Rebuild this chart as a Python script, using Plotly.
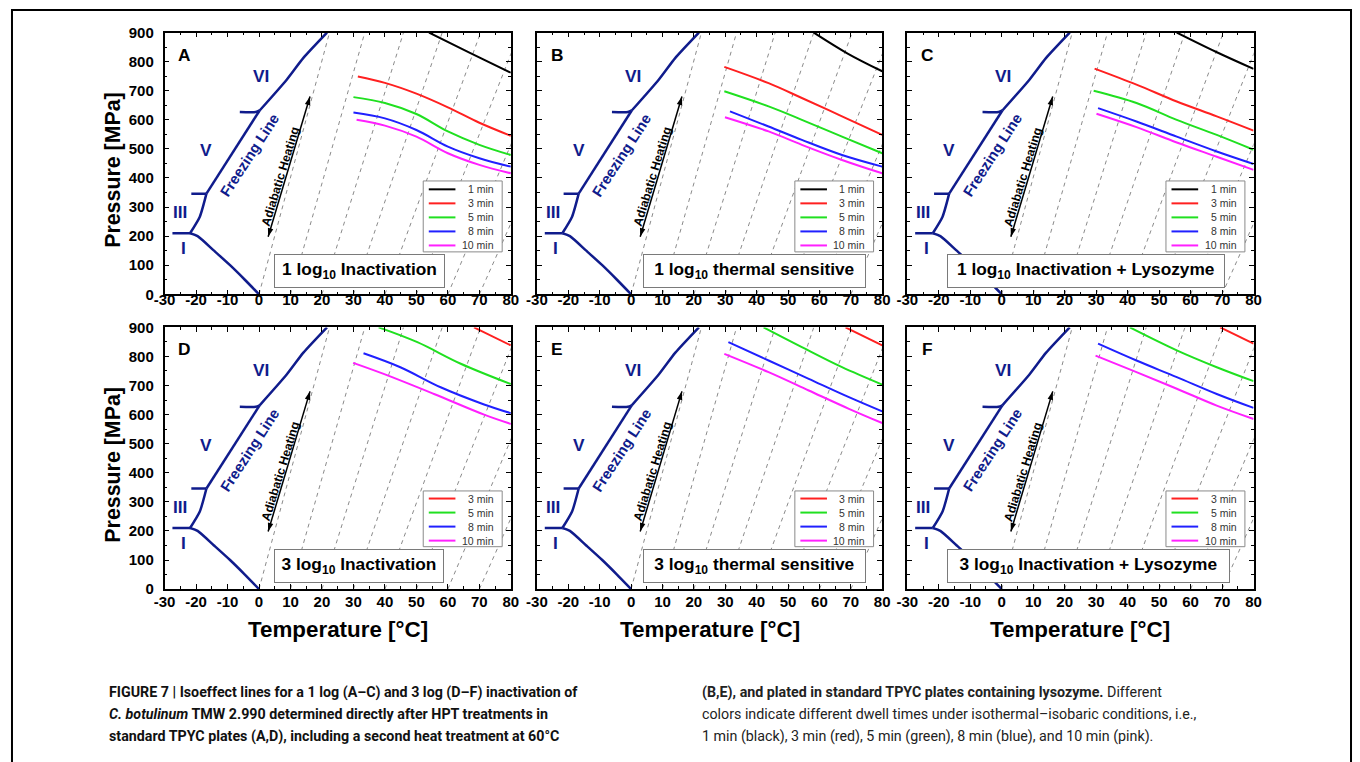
import plotly.graph_objects as go

# ---------------- data ----------------
X_TICKS = [-30, -20, -10, 0, 10, 20, 30, 40, 50, 60, 70, 80]
X_TICK_LABELS = ["-30", "-20", "-10", "0", "10", "20", "30", "40", "50", "60", "70", "80"]
Y_TICKS = [0, 100, 200, 300, 400, 500, 600, 700, 800, 900]

# adiabatic compression lines: start temperature at 0 MPa and temperature at 900 MPa
ADIA_T0 = [0, 10, 20, 30, 40, 50, 60, 70]
ADIA_T900 = [22.4, 33.6, 45.9, 58.2, 70.4, 82.7, 95.0, 107.0]
ADIA_P = [0, 900]

# double arrow "Adiabatic Heating"
ARROW_T = [2.9, 16.2]
ARROW_P = [198, 680]

# phase boundaries of water (freezing line)
ICE_I_T = [0, -4.5, -9.2, -14.3, -19.5, -21.9]
ICE_I_P = [0, 50, 100, 150, 200, 210]
ICE_I_III_T = [-21.9, -27.5]
ICE_I_III_P = [210, 210]
ICE_III_T = [-21.9, -18.8, -16.7]
ICE_III_P = [210, 267, 346]
ICE_III_V_T = [-16.7, -21.5]
ICE_III_V_P = [346, 346]
ICE_V_T = [-16.7, 0.2]
ICE_V_P = [346, 632]
ICE_V_VI_T = [0.2, -1.0, -6.1]
ICE_V_VI_P = [632, 627, 627]
ICE_VI_T = [0.2, 8.8, 14.1, 21.6]
ICE_VI_P = [632, 738, 813, 900]

DWELL = ["1 min", "3 min", "5 min", "8 min", "10 min"]
DWELL_COLORS = ["#000000", "#ff2020", "#20e020", "#2020ff", "#ff20ff"]

# isoeffect lines, per panel: dwell time -> temperatures / pressures
A_T = {"1 min": [54, 67, 80], "3 min": [31.4, 40, 50, 60, 70, 80], "5 min": [30, 40, 50, 60, 70, 80],
       "8 min": [30, 40, 50, 60, 70, 80], "10 min": [31, 40, 50, 60, 70, 80]}
A_P = {"1 min": [900, 830, 762], "3 min": [749, 727, 690, 643, 590, 545], "5 min": [678, 658, 620, 560, 514, 479],
       "8 min": [625, 605, 565, 508, 468, 439], "10 min": [600, 580, 542, 485, 445, 416]}

B_T = {"1 min": [58.2, 69, 80], "3 min": [29.7, 43.8, 54.4, 67.2, 80], "5 min": [29.7, 43.8, 54.4, 67.2, 80],
       "8 min": [31.5, 43.8, 54.4, 67.2, 80], "10 min": [29.9, 43.8, 54.4, 67.2, 80]}
B_P = {"1 min": [900, 828, 767], "3 min": [782, 726, 675, 612, 548], "5 min": [698, 646, 600, 542, 485],
       "8 min": [629, 577, 531, 479, 439], "10 min": [609, 560, 514, 462, 416]}

C_T = {"1 min": [55.6, 68, 80], "3 min": [29.5, 42.8, 55.6, 68.3, 80], "5 min": [29.2, 42.8, 55.6, 68.3, 80],
       "8 min": [30.6, 42.8, 55.6, 68.3, 80], "10 min": [30.1, 42.8, 55.6, 68.3, 80]}
C_P = {"1 min": [900, 834, 775], "3 min": [776, 721, 663, 612, 563], "5 min": [700, 658, 600, 548, 497],
       "8 min": [640, 594, 542, 491, 448], "10 min": [621, 575, 522, 473, 428]}

D_T = {"3 min": [68.3, 80], "5 min": [38, 50.3, 64.1, 80], "8 min": [33.2, 44.9, 57.7, 71.5, 80],
       "10 min": [29.9, 39.6, 55.6, 71.5, 80]}
D_P = {"3 min": [900, 838], "5 min": [900, 849, 775, 705], "8 min": [811, 763, 694, 635, 605],
       "10 min": [778, 740, 671, 600, 568]}

E_T = {"3 min": [68.3, 80], "5 min": [42.2, 54.4, 67.2, 80], "8 min": [31, 43.8, 56.6, 69.4, 80],
       "10 min": [29.7, 43.8, 56.6, 69.4, 80]}
E_P = {"3 min": [900, 838], "5 min": [900, 832, 763, 703], "8 min": [849, 786, 723, 660, 611],
       "10 min": [809, 746, 683, 620, 571]}

F_T = {"3 min": [69.4, 80], "5 min": [40.7, 55.6, 68.3, 80], "8 min": [30.6, 42.8, 55.6, 68.3, 80],
       "10 min": [29.8, 42.8, 55.6, 68.3, 80]}
F_P = {"3 min": [900, 844], "5 min": [900, 821, 763, 715], "8 min": [844, 786, 729, 671, 623],
       "10 min": [803, 746, 689, 631, 585]}

PANEL_LETTERS = ["A", "B", "C", "D", "E", "F"]
PANEL_LABELS = ["1 log<sub>10</sub> Inactivation", "1 log<sub>10</sub> thermal sensitive",
                "1 log<sub>10</sub> Inactivation + Lysozyme", "3 log<sub>10</sub> Inactivation",
                "3 log<sub>10</sub> thermal sensitive", "3 log<sub>10</sub> Inactivation + Lysozyme"]
LABEL_CENTER_T = [31.9, 39.3, 26.9, 31.7, 39.3, 27.6]
LABEL_WIDTH = [168, 219, 273, 167, 219, 278]

CAPTION_LEFT = [
    "<b>FIGURE 7 | Isoeffect lines for a 1 log (A–C) and 3 log (D–F) inactivation of</b>",
    "<b><i>C. botulinum</i> TMW 2.990 determined directly after HPT treatments in</b>",
    "<b>standard TPYC plates (A,D), including a second heat treatment at 60°C</b>",
]
CAPTION_RIGHT = [
    "<b>(B,E), and plated in standard TPYC plates containing lysozyme.</b> Different",
    "colors indicate different dwell times under isothermal–isobaric conditions, i.e.,",
    "1 min (black), 3 min (red), 5 min (green), 8 min (blue), and 10 min (pink).",
]

# ---------------- layout helpers ----------------
W, H = 1360, 762
# the photographed page appears slightly shrunk about its centre; positions below are
# target positions in the picture, converted back to page positions
SX, SY, BX, BY = 0.9824, 0.975, 12.0, 9.5
PANEL_X = [(165, 510), (536, 880), (905, 1250)]
PANEL_Y = [(33, 294), (327, 588)]
NAVY = "#101c8c"
FONT = "Liberation Sans, Arial, sans-serif"
K = 1.0 / SX  # font compensation


def fx(px):
    return ((px - BX) / SX) / W


def fy(py):
    return 1 - ((py - BY) / SY) / H


fig = go.Figure()
layout = {}
annotations = []
shapes = []

panel_T = [A_T, B_T, C_T, D_T, E_T, F_T]
panel_P = [A_P, B_P, C_P, D_P, E_P, F_P]

for i in range(6):
    k = i + 1
    row, col = divmod(i, 3)
    xa = "x" if k == 1 else f"x{k}"
    ya = "y" if k == 1 else f"y{k}"
    xdom = f"{xa} domain"
    ydom = f"{ya} domain"

    # adiabats
    for t0, t9 in zip(ADIA_T0, ADIA_T900):
        fig.add_trace(go.Scatter(x=[t0, t9], y=ADIA_P, mode="lines", xaxis=xa, yaxis=ya,
                                 line=dict(color="#8a8a8a", width=1, dash="4px,4px"),
                                 showlegend=False, hoverinfo="skip"))
    # freezing line
    for tt, pp in [(ICE_I_T, ICE_I_P), (ICE_I_III_T, ICE_I_III_P), (ICE_III_T, ICE_III_P),
                   (ICE_III_V_T, ICE_III_V_P), (ICE_V_T, ICE_V_P), (ICE_V_VI_T, ICE_V_VI_P),
                   (ICE_VI_T, ICE_VI_P)]:
        fig.add_trace(go.Scatter(x=tt, y=pp, mode="lines", xaxis=xa, yaxis=ya,
                                 line=dict(color=NAVY, width=2.5, shape="spline", smoothing=0.6),
                                 showlegend=False, hoverinfo="skip"))
    # double arrow
    fig.add_trace(go.Scatter(x=ARROW_T, y=ARROW_P, mode="lines+markers", xaxis=xa, yaxis=ya,
                             line=dict(color="black", width=1.5),
                             marker=dict(symbol="arrow", size=9, color="black", angleref="up",
                                         angle=[196.6, 16.6]),
                             showlegend=False, hoverinfo="skip"))
    # isoeffect lines
    keys = [d for d in DWELL if d in panel_T[i]]
    for d in keys:
        c = DWELL_COLORS[DWELL.index(d)]
        fig.add_trace(go.Scatter(x=panel_T[i][d], y=panel_P[i][d], mode="lines", xaxis=xa, yaxis=ya,
                                 line=dict(color=c, width=2, shape="spline", smoothing=1.0),
                                 showlegend=False, hoverinfo="skip"))

    x0, x1 = PANEL_X[col]
    y0, y1 = PANEL_Y[row]
    common = dict(ticks="inside", ticklen=5, tickwidth=1.2, tickcolor="black", mirror="allticks",
                  showline=True, linecolor="black", linewidth=1.5, showgrid=False, zeroline=False,
                  tickfont=dict(family=FONT, size=15, color="black", weight="bold"))
    layout["xaxis" if k == 1 else f"xaxis{k}"] = dict(
        domain=[fx(x0), fx(x1)], range=[-30, 80], tickvals=X_TICKS, ticktext=X_TICK_LABELS, anchor=ya,
        ticklabelstandoff=(-9 if row == 0 else -2),
        minor=dict(ticks="inside", ticklen=3, dtick=5, tick0=-30, tickcolor="black", tickwidth=1),
        **common)
    layout["yaxis" if k == 1 else f"yaxis{k}"] = dict(
        domain=[fy(y1), fy(y0)], range=[0, 900], tickvals=Y_TICKS, anchor=xa,
        showticklabels=(col == 0), ticklabelstandoff=6,
        minor=dict(ticks="inside", ticklen=3, dtick=50, tick0=0, tickcolor="black", tickwidth=1),
        **common)

    # panel letter
    annotations.append(dict(x=-23.6, y=824, xref=xa, yref=ya, text=f"<b>{PANEL_LETTERS[i]}</b>",
                            showarrow=False, xanchor="center", yanchor="middle",
                            font=dict(family=FONT, size=17 * K, color="black")))
    # ice phase labels
    for txt, tx, ty in [("VI", 0.5, 752), ("V", -16.7, 497), ("III", -25, 284), ("I", -24, 158)]:
        annotations.append(dict(x=tx, y=ty, xref=xa, yref=ya, text=f"<b>{txt}</b>", showarrow=False,
                                xanchor="center", yanchor="middle",
                                font=dict(family=FONT, size=17 * K, color=NAVY)))
    annotations.append(dict(x=-2.9, y=479, xref=xa, yref=ya, text="<b>Freezing Line</b>", showarrow=False,
                            xanchor="center", yanchor="middle",
                            textangle=-57, font=dict(family=FONT, size=14.5 * K, color=NAVY)))
    annotations.append(dict(x=6.7, y=404, xref=xa, yref=ya, text="<b>Adiabatic Heating</b>", showarrow=False,
                            xanchor="center", yanchor="middle",
                            textangle=-73, font=dict(family=FONT, size=12 * K, color="black")))
    # label box
    annotations.append(dict(x=LABEL_CENTER_T[i], y=79, xref=xa, yref=ya, text=f"<b>{PANEL_LABELS[i]}</b>",
                            showarrow=False, width=(LABEL_WIDTH[i] - 2) * K, height=31 * K, borderpad=0,
                            xanchor="center", yanchor="middle",
                            bordercolor="#7a7a7a", borderwidth=1, bgcolor="white",
                            font=dict(family=FONT, size=17 * K, color="black")))
    # legend
    ytop = 0.433 if len(keys) == 5 else 0.375
    first = 0.401 if len(keys) == 5 else 0.346
    shapes.append(dict(type="rect", xref=xdom, yref=ydom, x0=0.747, x1=0.975, y0=0.162, y1=ytop,
                       line=dict(color="#8a8a8a", width=1), fillcolor="white"))
    for j, d in enumerate(keys):
        yy = first - j * 0.0536
        c = DWELL_COLORS[DWELL.index(d)]
        shapes.append(dict(type="line", xref=xdom, yref=ydom, x0=0.763, x1=0.84, y0=yy, y1=yy,
                           line=dict(color=c, width=2)))
        annotations.append(dict(x=0.957, y=yy, xref=xdom, yref=ydom, text=d, showarrow=False,
                                xanchor="right", yanchor="middle",
                                font=dict(family=FONT, size=10.5, color="#333333")))

# axis titles
for row in range(2):
    yc = (PANEL_Y[row][0] + PANEL_Y[row][1]) / 2 + 6
    annotations.append(dict(x=fx(114), y=fy(yc), xref="paper", yref="paper", text="<b>Pressure [MPa]</b>",
                            showarrow=False, textangle=-90, xanchor="center", yanchor="middle",
                            font=dict(family=FONT, size=21 * K, color="black")))
for col in range(3):
    xc = (PANEL_X[col][0] + PANEL_X[col][1]) / 2
    annotations.append(dict(x=fx(xc), y=fy(628), xref="paper", yref="paper", text="<b>Temperature [°C]</b>",
                            showarrow=False, xanchor="center", yanchor="middle",
                            font=dict(family=FONT, size=22 * K, color="black")))

# caption
CAP_FONT = "Roboto, Liberation Sans, sans-serif"
for j, line in enumerate(CAPTION_LEFT):
    annotations.append(dict(x=fx(108), y=fy(691 + 22 * j), xref="paper", yref="paper", text=line,
                            showarrow=False, xanchor="left", yanchor="middle",
                            font=dict(family=CAP_FONT, size=14 * K, color="#111111")))
for j, line in enumerate(CAPTION_RIGHT):
    annotations.append(dict(x=fx(698), y=fy(691 + 22 * j), xref="paper", yref="paper", text=line,
                            showarrow=False, xanchor="left", yanchor="middle",
                            font=dict(family=CAP_FONT, size=14 * K, color="#222222")))

# outer frame (drawn at the page edges)
shapes.append(dict(type="rect", xref="paper", yref="paper", x0=1 / W, x1=1 - 1 / W, y0=-0.1, y1=1 - 1 / H,
                   line=dict(color="black", width=2), fillcolor="rgba(0,0,0,0)"))

fig.update_layout(width=W, height=H, margin=dict(l=0, r=0, t=0, b=0), paper_bgcolor="white",
                  plot_bgcolor="white", showlegend=False, annotations=annotations, shapes=shapes, **layout)

fig.write_html("out.html", config={"displayModeBar": False},
               post_script="document.body.style.margin='0';document.body.style.overflow='hidden';")
